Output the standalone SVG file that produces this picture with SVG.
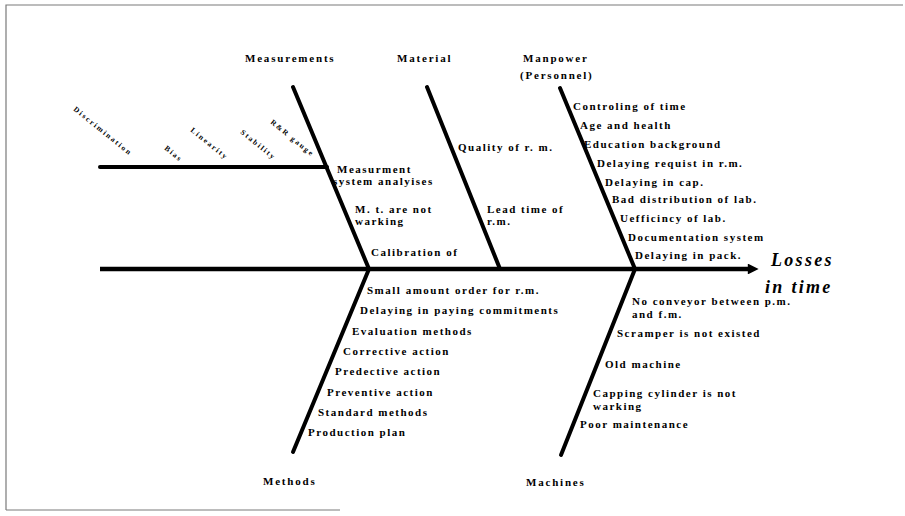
<svg xmlns="http://www.w3.org/2000/svg" width="905" height="516" viewBox="0 0 905 516">
<style>
.frame{stroke:#7a7a7a;stroke-width:1.2;fill:none}
.bone{stroke:#000;stroke-width:4;fill:none;stroke-linecap:round}
.spine{stroke:#000;stroke-width:4.5;fill:none}
.h{font-family:'Liberation Serif',serif;font-weight:bold;font-size:11px;letter-spacing:1.8px;fill:#000}
.t{font-family:'Liberation Serif',serif;font-weight:bold;font-size:11px;letter-spacing:1.5px;fill:#000}
.s{font-family:'Liberation Serif',serif;font-weight:bold;font-size:7.5px;letter-spacing:1.8px;fill:#000}
.e{font-family:'Liberation Serif',serif;font-weight:bold;font-style:italic;font-size:18px;letter-spacing:2.3px;fill:#000}
</style>
<defs>
<marker id="arr" viewBox="0 0 10 10" refX="2" refY="5" markerWidth="3.2" markerHeight="2.4" orient="auto" markerUnits="strokeWidth">
<path d="M0,0 L10,5 L0,10 z" fill="#000"/>
</marker>
</defs>
<rect width="905" height="516" fill="#fff"/>
<path class="frame" d="M6,510 V5 H903 M6,510 H340"/>
<g id="connectors">
<line class="spine" x1="100" y1="269" x2="750" y2="269" marker-end="url(#arr)"/>
<line class="bone" x1="293" y1="87" x2="369" y2="269"/>
<line class="bone" x1="427" y1="87" x2="500" y2="269"/>
<line class="bone" x1="560" y1="88" x2="635" y2="269"/>
<line class="bone" x1="369" y1="269" x2="293" y2="452"/>
<line class="bone" x1="635" y1="269" x2="561" y2="455"/>
<line class="bone" x1="100" y1="167" x2="327" y2="167"/>
</g>
<g id="effect">
<text class="e" x="771" y="266">Losses</text>
<text class="e" x="765" y="293">in time</text>
</g>
<g id="measurements">
<text class="h" x="245" y="62">Measurements</text>
<text class="t" x="337" y="173">Measurment</text>
<text class="t" x="333" y="185">system analyises</text>
<text class="t" x="355" y="213">M. t. are not</text>
<text class="t" x="355" y="225">warking</text>
<text class="t" x="371" y="256">Calibration of</text>
</g>
<g id="msa">
<text class="s" transform="translate(73,110) rotate(39)">Discrimination</text>
<text class="s" transform="translate(164,149) rotate(39)">Bias</text>
<text class="s" transform="translate(190,131) rotate(39)">Linearity</text>
<text class="s" transform="translate(240,133) rotate(39)">Stability</text>
<text class="s" transform="translate(270,123) rotate(39)">R&amp;R gauge</text>
</g>
<g id="material">
<text class="h" x="397" y="62">Material</text>
<text class="t" x="458" y="151">Quality of r. m.</text>
<text class="t" x="487" y="213">Lead time of</text>
<text class="t" x="487" y="225">r.m.</text>
</g>
<g id="manpower">
<text class="h" x="523" y="62">Manpower</text>
<text class="h" x="520" y="79">(Personnel)</text>
<text class="t" x="573" y="110">Controling of time</text>
<text class="t" x="580" y="129">Age and health</text>
<text class="t" x="584" y="148">Education background</text>
<text class="t" x="597" y="167">Delaying requist in r.m.</text>
<text class="t" x="605" y="186">Delaying in cap.</text>
<text class="t" x="612" y="203">Bad distribution of lab.</text>
<text class="t" x="620" y="222">Uefficincy of lab.</text>
<text class="t" x="628" y="241">Documentation system</text>
<text class="t" x="635" y="259">Delaying in pack.</text>
</g>
<g id="methods">
<text class="h" x="263" y="485">Methods</text>
<text class="t" x="367" y="294">Small amount order for r.m.</text>
<text class="t" x="360" y="314">Delaying in paying commitments</text>
<text class="t" x="352" y="335">Evaluation methods</text>
<text class="t" x="343" y="355">Corrective action</text>
<text class="t" x="335" y="375">Predective action</text>
<text class="t" x="327" y="396">Preventive action</text>
<text class="t" x="318" y="416">Standard methods</text>
<text class="t" x="308" y="436">Production plan</text>
</g>
<g id="machines">
<text class="h" x="526" y="486">Machines</text>
<text class="t" x="632" y="305">No conveyor between p.m.</text>
<text class="t" x="632" y="318">and f.m.</text>
<text class="t" x="617" y="337">Scramper  is not existed</text>
<text class="t" x="605" y="368">Old machine</text>
<text class="t" x="593" y="397">Capping cylinder is not</text>
<text class="t" x="593" y="410">warking</text>
<text class="t" x="580" y="428">Poor maintenance</text>
</g>
</svg>
